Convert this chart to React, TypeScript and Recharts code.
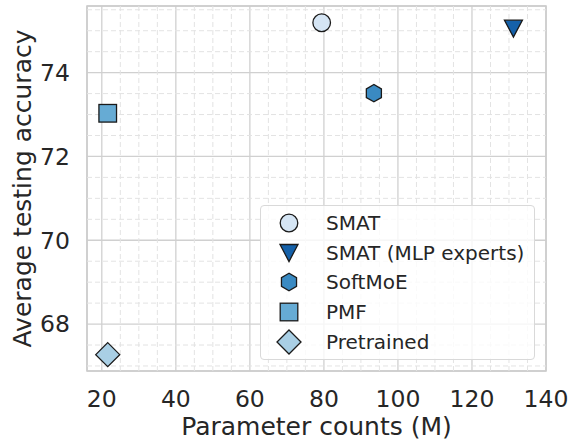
import React from 'react';
import { ScatterChart, Scatter, XAxis, YAxis, CartesianGrid, ReferenceLine, ReferenceArea } from 'recharts';

const names = ['SMAT', 'SMAT (MLP experts)', 'SoftMoE', 'PMF', 'Pretrained'];
const params = [79.4, 131.2, 93.5, 21.6, 21.6];
const accuracy = [75.19, 75.05, 73.51, 73.03, 67.27];
const colors = ['#d5e5f4', '#1561a9', '#3a8ac2', '#66abd4', '#a9cfe5'];
const markers = ['circle', 'triangleDown', 'hexagon', 'square', 'diamond'];

const xTicks = [20, 40, 60, 80, 100, 120, 140];
const yTicks = [68, 70, 72, 74];
const xMinor = [25, 30, 35, 45, 50, 55, 65, 70, 75, 85, 90, 95, 105, 110, 115, 125, 130, 135];
const yMinor = [67, 67.5, 68.5, 69, 69.5, 70.5, 71, 71.5, 72.5, 73, 73.5, 74.5, 75, 75.5];

const X_DOMAIN = [16, 140];
const Y_DOMAIN = [66.88, 75.59];
const FONT = '"DejaVu Sans", sans-serif';
const EDGE = '#1a1a1a';
const TEXT = '#262626';

const Marker = ({ kind, cx, cy, fill }: { kind: string; cx: number; cy: number; fill: string }) => {
  const sw = 1.3;
  if (kind === 'circle') return <circle cx={cx} cy={cy} r={8.8} fill={fill} stroke={EDGE} strokeWidth={sw} />;
  if (kind === 'square') return <rect x={cx - 8.8} y={cy - 8.8} width={17.6} height={17.6} fill={fill} stroke={EDGE} strokeWidth={sw} />;
  if (kind === 'diamond') {
    const d = 12;
    return <polygon points={`${cx},${cy - d} ${cx + d},${cy} ${cx},${cy + d} ${cx - d},${cy}`} fill={fill} stroke={EDGE} strokeWidth={sw} />;
  }
  if (kind === 'triangleDown') {
    return <polygon points={`${cx - 9},${cy - 8.5} ${cx + 9},${cy - 8.5} ${cx},${cy + 8.5}`} fill={fill} stroke={EDGE} strokeWidth={sw} />;
  }
  // hexagon, vertex on top
  const r = 8.7;
  const pts = [0, 1, 2, 3, 4, 5]
    .map((k) => {
      const a = (Math.PI / 180) * (90 + 60 * k);
      return `${cx + r * Math.cos(a)},${cy - r * Math.sin(a)}`;
    })
    .join(' ');
  return <polygon points={pts} fill={fill} stroke={EDGE} strokeWidth={sw} />;
};

const LegendBox = () => (
  <div
    style={{
      position: 'absolute',
      left: 260,
      top: 205,
      width: 273,
      height: 151,
      border: '1px solid #d9d9d9',
      borderRadius: 4,
      background: 'rgba(255,255,255,0.8)',
      fontFamily: FONT,
      fontSize: 20,
      color: TEXT,
      paddingTop: 2,
    }}
  >
    {names.map((n, i) => (
      <div key={n} style={{ height: 29.7, display: 'flex', alignItems: 'center' }}>
        <svg width={56} height={30} style={{ flex: 'none' }}>
          <Marker kind={markers[i]} cx={28} cy={15} fill={colors[i]} />
        </svg>
        <span style={{ marginLeft: 9, whiteSpace: 'nowrap' }}>{n}</span>
      </div>
    ))}
  </div>
);

export default function App() {
  return (
    <div style={{ position: 'absolute', left: 0, top: 0, width: 572, height: 442, background: '#fff' }}>
      <ScatterChart width={572} height={442} margin={{ top: 6, right: 26, bottom: 0, left: 0 }}>
        <CartesianGrid stroke="#d0d0d0" strokeWidth={1.3} />
        {xMinor.map((v) => (
          <ReferenceLine key={'x' + v} x={v} stroke="#e3e3e3" strokeWidth={1} strokeDasharray="5 3" />
        ))}
        {yMinor.map((v) => (
          <ReferenceLine key={'y' + v} y={v} stroke="#e3e3e3" strokeWidth={1} strokeDasharray="5 3" />
        ))}
        <ReferenceArea x1={X_DOMAIN[0]} x2={X_DOMAIN[1]} y1={Y_DOMAIN[0]} y2={Y_DOMAIN[1]} fill="none" stroke="#cccccc" strokeWidth={1.6} />
        <XAxis
          type="number"
          dataKey="x"
          domain={X_DOMAIN}
          ticks={xTicks}
          allowDataOverflow
          height={71}
          axisLine={false}
          tickLine={false}
          tickMargin={13}
          tick={{ fill: TEXT, fontSize: 23.5, fontFamily: FONT }}
          label={{ value: 'Parameter counts (M)', position: 'insideBottom', offset: 7, fill: TEXT, fontSize: 25, fontFamily: FONT }}
        />
        <YAxis
          type="number"
          dataKey="y"
          domain={Y_DOMAIN}
          ticks={yTicks}
          allowDataOverflow
          width={87}
          axisLine={false}
          tickLine={false}
          tickMargin={11}
          tick={{ fill: TEXT, fontSize: 23.5, fontFamily: FONT }}
          label={{ value: 'Average testing accuracy', angle: -90, position: 'insideLeft', offset: 22, style: { textAnchor: 'middle' }, fill: TEXT, fontSize: 25, fontFamily: FONT }}
        />
        {names.map((n, i) => (
          <Scatter
            key={n}
            name={n}
            data={[{ x: params[i], y: accuracy[i] }]}
            fill={colors[i]}
            isAnimationActive={false}
            shape={(p: any) => <Marker kind={markers[i]} cx={p.cx} cy={p.cy} fill={colors[i]} />}
          />
        ))}
      </ScatterChart>
      <LegendBox />
    </div>
  );
}
